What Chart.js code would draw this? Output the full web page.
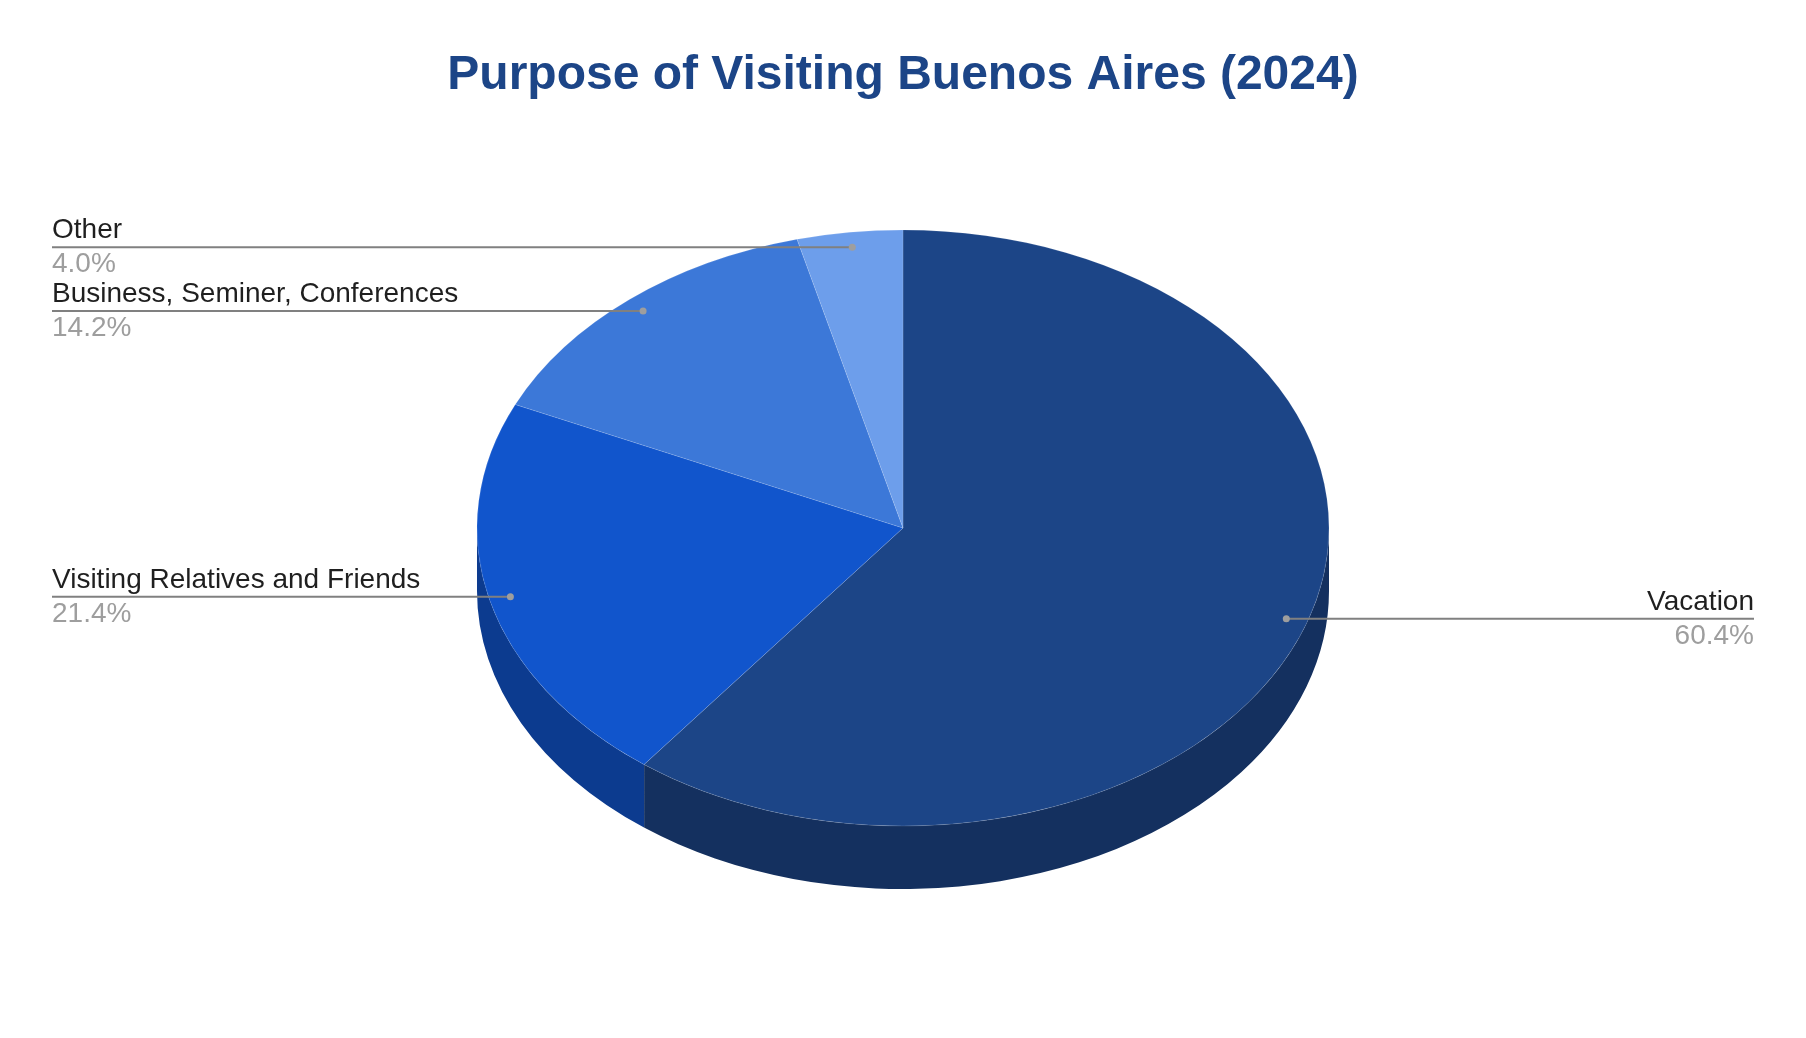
<!DOCTYPE html>
<html>
<head>
<meta charset="utf-8">
<style>
html,body{margin:0;padding:0;background:#fff;}
canvas{display:block;}
</style>
<script src="https://cdn.jsdelivr.net/npm/chart.js@4"></script>
</head>
<body>
<canvas id="c" width="1806" height="1038" style="width:1806px;height:1038px"></canvas>
<script>
const titleText = 'Purpose of Visiting Buenos Aires (2024)';
const categories = ['Vacation', 'Visiting Relatives and Friends', 'Business, Seminer, Conferences', 'Other'];
const values = [60.4, 21.4, 14.2, 4.0];
const valueLabels = ['60.4%', '21.4%', '14.2%', '4.0%'];
const topColors = ['#1c4587', '#1155cc', '#3c78d8', '#6d9eeb'];
const sideColors = ['#14305f', '#0c3b8f', '#2a5497', '#4c6ea5'];
const labelSides = ['right', 'left', 'left', 'left'];

const squash = 298 / 426;
const depth = 63;
const textLeft = 52;
const textRight = 1754;
const labelFont = '28px "Liberation Sans", Arial, sans-serif';

const pie3d = {
  id: 'pie3d',
  beforeDatasetsDraw(chart) {
    const ctx = chart.ctx;
    const arcs = chart.getDatasetMeta(0).data;
    arcs.forEach((arc, i) => {
      const a = Math.max(arc.startAngle, 0);
      const b = Math.min(arc.endAngle, Math.PI);
      if (b <= a) return;
      const rx = arc.outerRadius, ry = rx * squash;
      ctx.beginPath();
      ctx.ellipse(arc.x, arc.y, rx, ry, 0, a, b);
      ctx.ellipse(arc.x, arc.y + depth, rx, ry, 0, b, a, true);
      ctx.closePath();
      ctx.fillStyle = sideColors[i];
      ctx.fill();
      if (arc.endAngle < Math.PI) {
        const x = arc.x + rx * Math.cos(b), y = arc.y + ry * Math.sin(b);
        ctx.beginPath();
        ctx.moveTo(x, y);
        ctx.lineTo(x, y + depth);
        ctx.strokeStyle = 'rgba(255,255,255,0.2)';
        ctx.lineWidth = 1;
        ctx.stroke();
      }
    });
    const c = arcs[0];
    ctx.save();
    ctx.translate(c.x, c.y);
    ctx.scale(1, squash);
    ctx.translate(-c.x, -c.y);
  },
  afterDatasetsDraw(chart) {
    const ctx = chart.ctx;
    ctx.restore();
    const arcs = chart.getDatasetMeta(0).data;
    arcs.forEach((arc, i) => {
      const mid = (arc.startAngle + arc.endAngle) / 2;
      const r = arc.outerRadius * 0.95;
      const px = arc.x + r * Math.cos(mid);
      const py = arc.y + r * squash * Math.sin(mid);
      const right = labelSides[i] === 'right';
      const tx = right ? textRight : textLeft;
      ctx.beginPath();
      ctx.moveTo(px, py);
      ctx.lineTo(tx, py);
      ctx.strokeStyle = '#808080';
      ctx.lineWidth = 2;
      ctx.stroke();
      ctx.beginPath();
      ctx.arc(px, py, 3.5, 0, Math.PI * 2);
      ctx.fillStyle = '#9e9e9e';
      ctx.fill();
      ctx.font = labelFont;
      ctx.textAlign = right ? 'right' : 'left';
      ctx.textBaseline = 'alphabetic';
      ctx.fillStyle = '#1f1f1f';
      ctx.fillText(categories[i], tx, py - 9);
      ctx.fillStyle = '#9e9e9e';
      ctx.fillText(valueLabels[i], tx, py + 25);
    });
  }
};

new Chart(document.getElementById('c'), {
  type: 'pie',
  data: {
    labels: categories,
    datasets: [{
      data: values,
      backgroundColor: topColors,
      borderColor: 'rgba(255,255,255,0.15)',
      borderWidth: 1,
      radius: 426
    }]
  },
  options: {
    responsive: false,
    animation: false,
    events: [],
    layout: { padding: { top: 0, bottom: 86.6, left: 0, right: 0 } },
    plugins: {
      legend: { display: false },
      tooltip: { enabled: false },
      title: {
        display: true,
        text: titleText,
        color: '#1c4587',
        font: { family: '"Liberation Sans", Arial, sans-serif', size: 48, weight: 'bold', lineHeight: 1.2 },
        padding: { top: 47, bottom: 0 }
      }
    }
  },
  plugins: [pie3d]
});
</script>
</body>
</html>
